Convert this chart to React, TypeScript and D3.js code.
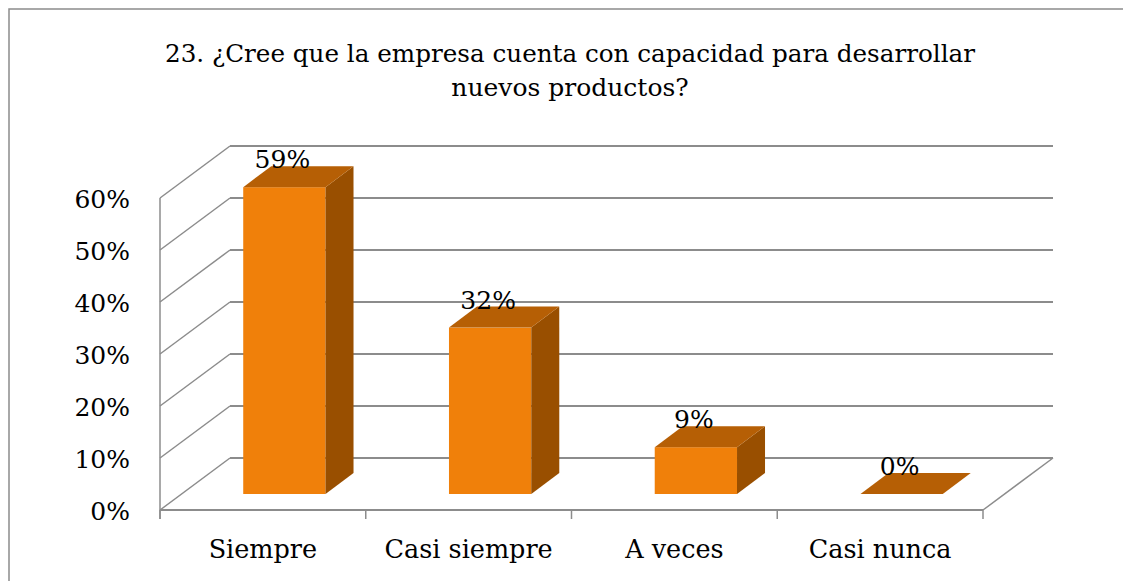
import React from "react";
import * as d3 from "d3";

const categories = ["Siempre", "Casi siempre", "A veces", "Casi nunca"];
const values = [0.59, 0.32, 0.09, 0.0];
const valueLabels = ["59%", "32%", "9%", "0%"];
const yTicks = [0, 0.1, 0.2, 0.3, 0.4, 0.5, 0.6];
const titleLines = [
  "23. ¿Cree que la empresa cuenta con capacidad para desarrollar",
  "nuevos productos?",
];

const W = 1123;
const H = 581;
const FONT = "'DejaVu Serif', serif";

// geometry
const x0 = 160;
const x1 = 983;
const baseY = 510;
const wallDX = 70;
const wallDY = 52;
const barOffDX = 21.5;
const barOffDY = 16;
const barDX = 28;
const barDY = 21;

const GRID = "#8c8c8c";
const FRONT = "#F0800A";
const TOP = "#B65F05";
const SIDE = "#994F00";

export default function App() {
  const yScale = d3.scaleLinear().domain([0, 0.6]).range([0, 312]);
  const xBand = d3.scaleBand<string>().domain(categories).range([x0, x1]).padding(0);
  const step = xBand.step();
  const barW = step / 2.5;
  const boundaries = [...categories.map((c) => xBand(c) as number), x1];

  const pts = (arr: [number, number][]) => arr.map((p) => p.join(",")).join(" ");
  const ts = { fontFamily: FONT } as React.CSSProperties;

  return (
    <svg
      width={W}
      height={H}
      style={{ position: "absolute", left: 0, top: 0, background: "#fff" }}
    >
      <rect x={9} y={9} width={W + 20} height={H + 20} fill="#fff" stroke={GRID} strokeWidth={1.5} />

      {titleLines.map((t, i) => (
        <text
          key={i}
          x={570}
          y={62 + i * 34}
          textAnchor="middle"
          style={ts}
          fontSize={25}
          fill="#000"
          {...(i === 0 ? { textLength: 810, lengthAdjust: "spacingAndGlyphs" } : {})}
        >
          {t}
        </text>
      ))}

      {yTicks.map((t, i) => {
        const yb = baseY - wallDY - yScale(t);
        return <line key={"g" + i} x1={x0 + wallDX} x2={x1 + wallDX} y1={yb} y2={yb} stroke={GRID} strokeWidth={2} />;
      })}
      {yTicks.map((t, i) => {
        const yf = baseY - yScale(t);
        return <line key={"d" + i} x1={x0} y1={yf} x2={x0 + wallDX} y2={yf - wallDY} stroke={GRID} strokeWidth={1.5} />;
      })}
      <line x1={x0} x2={x0} y1={baseY + 9} y2={baseY - yScale(0.6)} stroke={GRID} strokeWidth={1.5} />
      <line x1={x0} x2={x1} y1={baseY} y2={baseY} stroke={GRID} strokeWidth={2} />
      <line x1={x1} y1={baseY} x2={x1 + wallDX} y2={baseY - wallDY} stroke={GRID} strokeWidth={1.5} />
      {boundaries.map((b, i) => (
        <line key={"t" + i} x1={b} x2={b} y1={baseY} y2={baseY + 9} stroke={GRID} strokeWidth={1.5} />
      ))}

      {categories.map((c, i) => {
        const cx = (xBand(c) as number) + step / 2 + barOffDX;
        const left = cx - barW / 2;
        const right = cx + barW / 2;
        const bottom = baseY - barOffDY;
        const top = bottom - yScale(values[i]);
        return (
          <g key={"b" + i}>
            {values[i] > 0 && (
              <>
                <rect x={left} y={top} width={barW} height={bottom - top} fill={FRONT} />
                <polygon
                  points={pts([[right, top], [right + barDX, top - barDY], [right + barDX, bottom - barDY], [right, bottom]])}
                  fill={SIDE}
                />
              </>
            )}
            <polygon
              points={pts([[left, top], [left + barDX, top - barDY], [right + barDX, top - barDY], [right, top]])}
              fill={TOP}
            />
          </g>
        );
      })}

      {categories.map((c, i) => {
        const cx = (xBand(c) as number) + step / 2 + barOffDX - 2;
        const yb = baseY - barOffDY - yScale(values[i]) - barDY + 2;
        return (
          <text key={"l" + i} x={cx} y={yb} textAnchor="middle" style={ts} fontSize={25} fill="#000">
            {valueLabels[i]}
          </text>
        );
      })}

      {yTicks.map((t, i) => (
        <text key={"y" + i} x={130} y={baseY - yScale(t) + 1} dy="0.36em" textAnchor="end" style={ts} fontSize={25} fill="#000">
          {d3.format(".0%")(t)}
        </text>
      ))}

      {categories.map((c, i) => (
        <text key={"x" + i} x={(xBand(c) as number) + step / 2} y={557.5} textAnchor="middle" style={ts} fontSize={25.5} fill="#000">
          {c}
        </text>
      ))}
    </svg>
  );
}
